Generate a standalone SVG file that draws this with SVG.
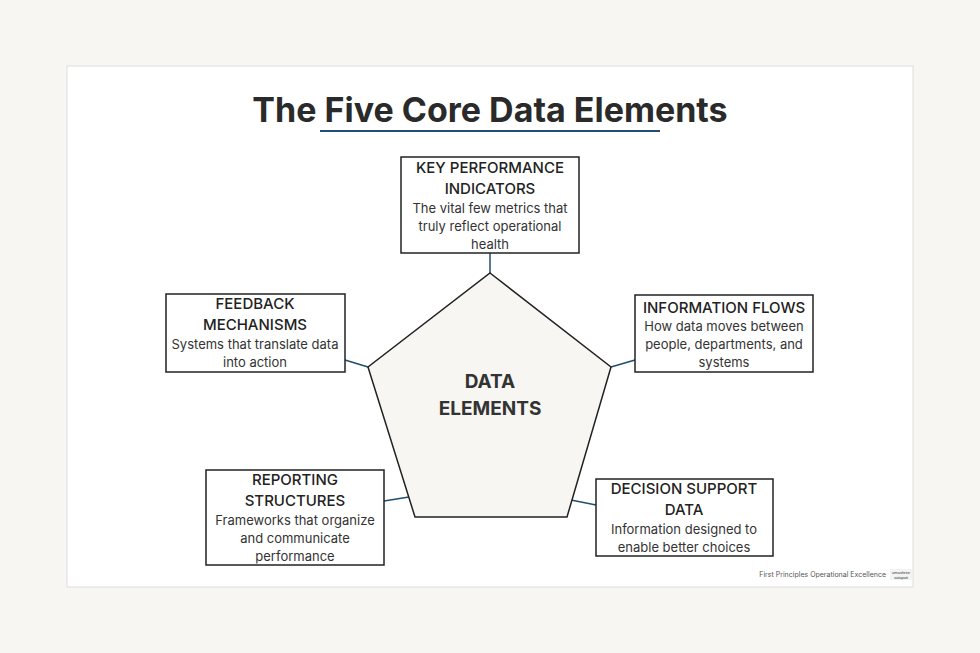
<svg xmlns="http://www.w3.org/2000/svg" width="980" height="653" viewBox="0 0 980 653">
<style>
.box{fill:#fff;stroke:#222;stroke-width:1.5}
.h{font-family:Inter,"Liberation Sans",sans-serif;font-size:15px;font-weight:500;fill:#222;text-anchor:middle}
.d{font-family:Inter,"Liberation Sans",sans-serif;font-size:13px;fill:#333;text-anchor:middle}
.c{stroke:#1f4e6e;stroke-width:1.5}
</style>
<rect width="980" height="653" fill="#f7f6f2"/>
<rect x="67" y="66" width="846" height="521" fill="#fff" stroke="#ddd"/>
<text x="490" y="122" font-family="Inter,'Liberation Sans',sans-serif" font-size="34" font-weight="700" fill="#2a2a2a" text-anchor="middle">The Five Core Data Elements</text>
<line x1="320" y1="131" x2="660" y2="131" stroke="#1f4e79" stroke-width="2"/>
<g id="connectors">
<line class="c" x1="490" y1="253" x2="490" y2="273"/>
<line class="c" x1="345" y1="360" x2="368" y2="367"/>
<line class="c" x1="611" y1="367" x2="635" y2="360"/>
<line class="c" x1="384" y1="501" x2="409" y2="497"/>
<line class="c" x1="571" y1="500" x2="596" y2="505"/>
</g>
<g id="center">
<polygon points="490,273 611,367 567,517 415,517 368,367" fill="#f7f6f2" stroke="#222" stroke-width="1.5"/>
<text x="490" y="388" font-family="Inter,'Liberation Sans',sans-serif" font-size="19" font-weight="700" fill="#333" text-anchor="middle">DATA</text>
<text x="490" y="415" font-family="Inter,'Liberation Sans',sans-serif" font-size="19" font-weight="700" fill="#333" text-anchor="middle">ELEMENTS</text>
</g>
<g id="kpi">
<rect class="box" x="401" y="157" width="178" height="96"/>
<text class="h" x="490" y="173">KEY PERFORMANCE</text>
<text class="h" x="490" y="194">INDICATORS</text>
<text class="d" x="490" y="213">The vital few metrics that</text>
<text class="d" x="490" y="231">truly reflect operational</text>
<text class="d" x="490" y="249">health</text>
</g>
<g id="feedback">
<rect class="box" x="166" y="294" width="179" height="78"/>
<text class="h" x="255" y="309">FEEDBACK</text>
<text class="h" x="255" y="330">MECHANISMS</text>
<text class="d" x="255" y="349">Systems that translate data</text>
<text class="d" x="255" y="367">into action</text>
</g>
<g id="info">
<rect class="box" x="635" y="295" width="178" height="77"/>
<text class="h" x="724" y="313">INFORMATION FLOWS</text>
<text class="d" x="724" y="331">How data moves between</text>
<text class="d" x="724" y="349">people, departments, and</text>
<text class="d" x="724" y="367">systems</text>
</g>
<g id="reporting">
<rect class="box" x="206" y="470" width="178" height="95"/>
<text class="h" x="295" y="485">REPORTING</text>
<text class="h" x="295" y="506">STRUCTURES</text>
<text class="d" x="295" y="525">Frameworks that organize</text>
<text class="d" x="295" y="543">and communicate</text>
<text class="d" x="295" y="561">performance</text>
</g>
<g id="decision">
<rect class="box" x="596" y="479" width="177" height="77"/>
<text class="h" x="684" y="494">DECISION SUPPORT</text>
<text class="h" x="684" y="515">DATA</text>
<text class="d" x="684" y="534">Information designed to</text>
<text class="d" x="684" y="552">enable better choices</text>
</g>
<text x="886" y="577" font-family="Inter,'Liberation Sans',sans-serif" font-size="7" fill="#555" text-anchor="end">First Principles Operational Excellence</text>
<rect x="890" y="569" width="22" height="11" fill="#f3f3f3"/>
<text x="901" y="574" font-family="'Liberation Sans',sans-serif" font-size="4" fill="#333" text-anchor="middle">umashree</text>
<text x="901" y="579" font-family="'Liberation Sans',sans-serif" font-size="4" fill="#333" text-anchor="middle">satapati</text>
</svg>
